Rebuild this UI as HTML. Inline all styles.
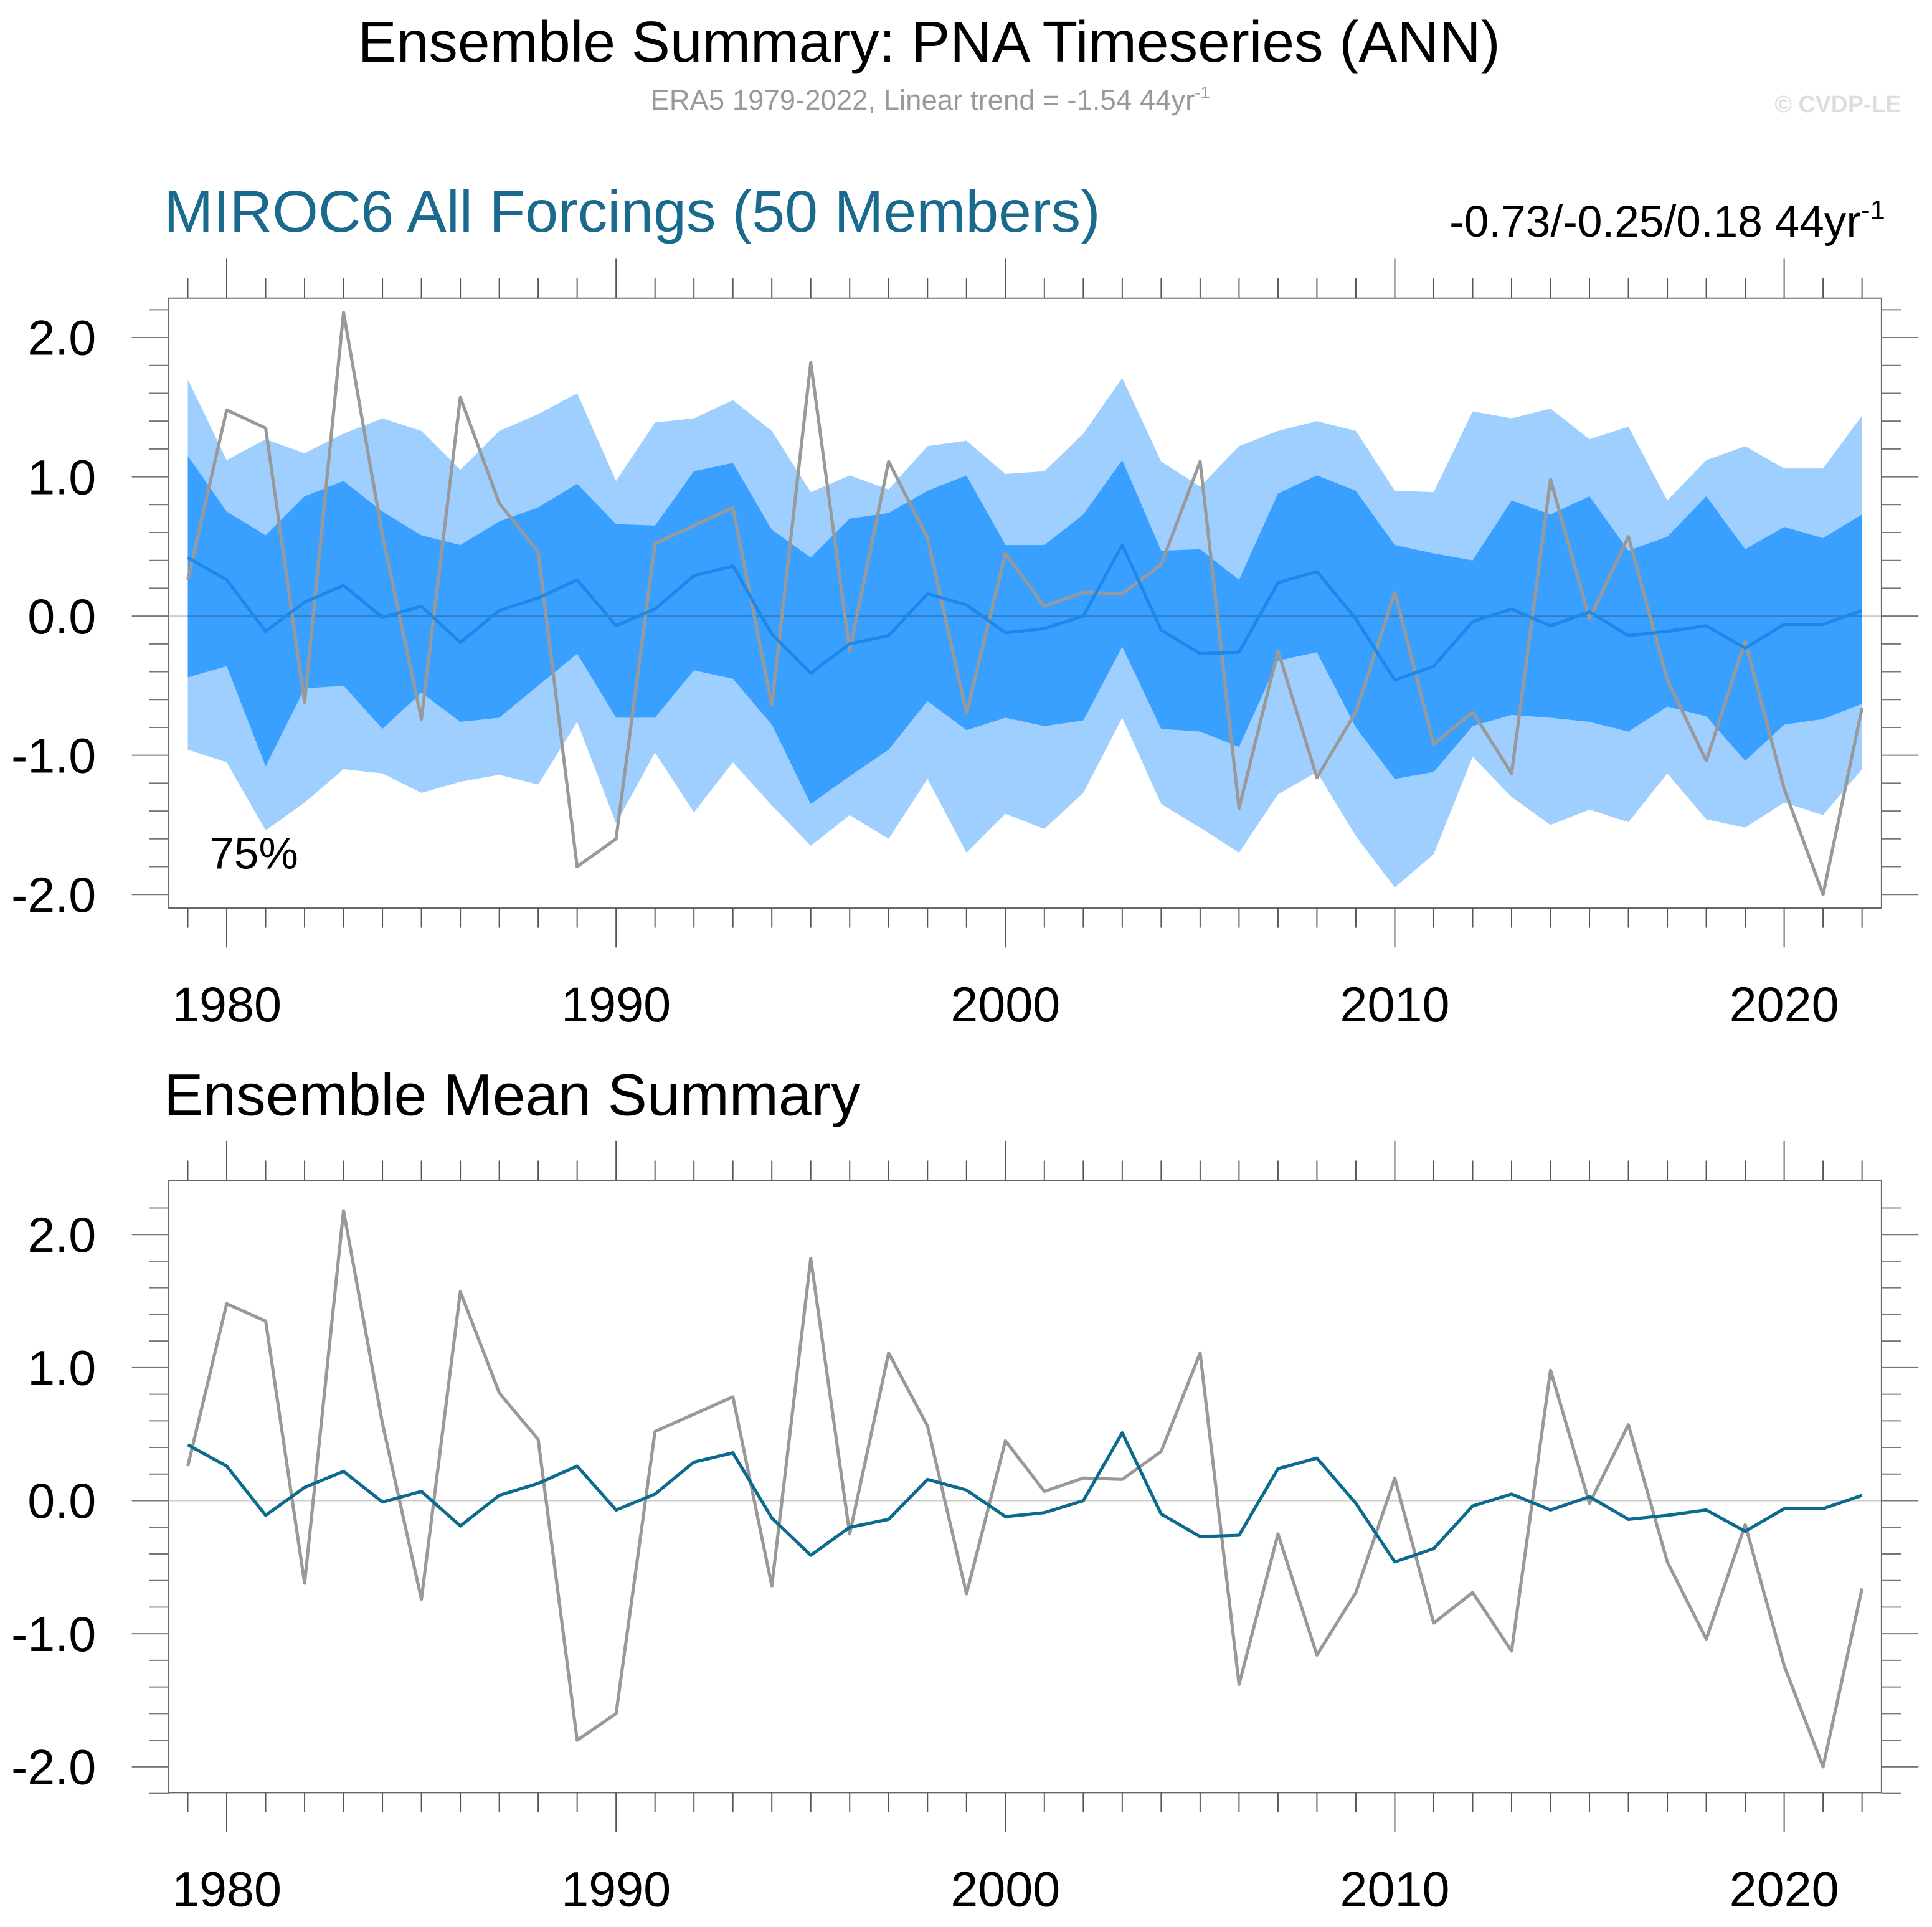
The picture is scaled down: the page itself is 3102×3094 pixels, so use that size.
<!DOCTYPE html>
<html><head><meta charset="utf-8"><style>
html,body{margin:0;padding:0;background:#fff}
svg{display:block;font-family:"Liberation Sans",Arial,sans-serif}
</style></head><body>
<svg id="chart" width="3102" height="3094" viewBox="0 0 1568 1564" preserveAspectRatio="none" xmlns="http://www.w3.org/2000/svg">
<text x="754" y="50" font-size="47" text-anchor="middle" fill="#000">Ensemble Summary: PNA Timeseries (ANN)</text>
<text x="755" y="89" font-size="23" text-anchor="middle" fill="#999">ERA5 1979-2022, Linear trend = -1.54 44yr<tspan dy="-9" font-size="14">-1</tspan></text>
<text x="1543" y="91" font-size="19" font-weight="bold" text-anchor="end" fill="#ddd">© CVDP-LE</text>
<text x="133" y="188" font-size="48" fill="#1a6a8e">MIROC6 All Forcings (50 Members)</text>
<text x="1530" y="192" font-size="36" text-anchor="end" fill="#000">-0.73/-0.25/0.18 44yr<tspan dy="-14" font-size="22">-1</tspan></text>
<text x="133" y="905" font-size="48" fill="#000">Ensemble Mean Summary</text>
<g id="topPanel"></g>
<g id="botPanel"></g>
</svg>
<script>
const years=[];for(let y=1979;y<=2022;y++)years.push(y);
const era5=[0.26,1.48,1.35,-0.62,2.18,0.58,-0.74,1.57,0.81,0.46,-1.80,-1.60,0.52,0.65,0.78,-0.64,1.82,-0.25,1.11,0.56,-0.70,0.45,0.07,0.17,0.16,0.37,1.11,-1.38,-0.25,-1.16,-0.69,0.17,-0.92,-0.69,-1.13,0.98,-0.02,0.57,-0.46,-1.04,-0.18,-1.24,-2.00,-0.66];
const ensMean=[0.42,0.26,-0.11,0.10,0.22,-0.01,0.07,-0.19,0.04,0.13,0.26,-0.07,0.05,0.29,0.36,-0.13,-0.41,-0.20,-0.14,0.16,0.08,-0.12,-0.09,0.00,0.51,-0.10,-0.27,-0.26,0.24,0.32,-0.02,-0.46,-0.36,-0.04,0.05,-0.07,0.03,-0.14,-0.11,-0.07,-0.23,-0.06,-0.06,0.04];
const outerHi=[1.70,1.12,1.27,1.17,1.31,1.42,1.33,1.05,1.33,1.45,1.60,0.97,1.39,1.42,1.55,1.33,0.89,1.01,0.91,1.22,1.26,1.02,1.04,1.31,1.71,1.11,0.93,1.22,1.33,1.40,1.33,0.90,0.89,1.47,1.42,1.49,1.27,1.36,0.83,1.12,1.22,1.06,1.06,1.44];
const innerHi=[1.15,0.75,0.58,0.86,0.97,0.75,0.58,0.51,0.68,0.78,0.95,0.66,0.65,1.04,1.10,0.62,0.42,0.70,0.74,0.90,1.01,0.51,0.51,0.73,1.12,0.47,0.48,0.26,0.88,1.01,0.90,0.51,0.45,0.40,0.83,0.73,0.86,0.47,0.57,0.86,0.48,0.64,0.56,0.73];
const innerLo=[-0.44,-0.36,-1.08,-0.52,-0.50,-0.81,-0.55,-0.76,-0.73,-0.50,-0.27,-0.73,-0.73,-0.39,-0.45,-0.78,-1.35,-1.15,-0.96,-0.61,-0.82,-0.73,-0.79,-0.75,-0.22,-0.81,-0.83,-0.94,-0.32,-0.26,-0.80,-1.17,-1.12,-0.79,-0.71,-0.73,-0.76,-0.83,-0.65,-0.72,-1.04,-0.78,-0.74,-0.63];
const outerLo=[-0.96,-1.05,-1.54,-1.34,-1.10,-1.13,-1.27,-1.19,-1.14,-1.21,-0.76,-1.49,-0.98,-1.41,-1.05,-1.36,-1.65,-1.43,-1.60,-1.17,-1.70,-1.42,-1.53,-1.27,-0.73,-1.35,-1.52,-1.70,-1.28,-1.12,-1.58,-1.95,-1.71,-1.01,-1.30,-1.50,-1.39,-1.48,-1.13,-1.46,-1.52,-1.34,-1.43,-1.10];
const yTicks=[-2,-1,0,1,2];
const yTickLabels=["-2.0","-1.0","0.0","1.0","2.0"];
const xTicks=[1980,1990,2000,2010,2020];

const NS="http://www.w3.org/2000/svg";
function mk(parent,tag,attrs){const e=document.createElementNS(NS,tag);for(const k in attrs)e.setAttribute(k,attrs[k]);parent.appendChild(e);return e;}
const xs=y=>184+(y-1980)*(1448-184)/40;
function panel(g,pTop,pBottom,y0,ppu,withBands,meanColor){
  const ys=v=>y0-v*ppu;
  const L=137,R=1527;
  if(withBands){
    const band=(hi,lo,fill,name)=>{
      let d="M"+years.map((y,i)=>xs(y)+","+ys(hi[i])).join("L");
      for(let i=years.length-1;i>=0;i--)d+="L"+xs(years[i])+","+ys(lo[i]);
      const p=mk(g,"path",{d:d+"Z",fill:fill});
      
      
    };
    band(outerHi,outerLo,"#9ecfff","outer-percentile-band");
    band(innerHi,innerLo,"#3aa0ff","inner-percentile-band");
  }
  const z=mk(g,"line",{x1:L,x2:R,y1:ys(0),y2:ys(0),stroke:"#000","stroke-opacity":0.2,"stroke-width":1});
  
  
  const line=(vals,col,name)=>{
    const p=mk(g,"polyline",{points:years.map((y,i)=>xs(y)+","+ys(vals[i])).join(" "),fill:"none",stroke:col,"stroke-width":2.6,"stroke-linejoin":"round"});
    
    
  };
  line(era5,"#999","era5-line");
  line(ensMean,meanColor,"ensemble-mean-line");
  const f=mk(g,"rect",{x:L,y:pTop,width:R-L,height:pBottom-pTop,fill:"none",stroke:"#666","stroke-width":1});
  
  
  years.forEach(y=>{
    const maj=y%10===0,len=maj?32:16;
    mk(g,"line",{x1:xs(y),x2:xs(y),y1:pTop,y2:pTop-len,stroke:"#555","stroke-width":1});
    mk(g,"line",{x1:xs(y),x2:xs(y),y1:pBottom,y2:pBottom+len,stroke:"#555","stroke-width":1});
  });
  xTicks.forEach(y=>{
    const t=mk(g,"text",{x:xs(y),y:pBottom+92,"font-size":40,"text-anchor":"middle",fill:"#000"});
    t.textContent=String(y);
    
    
  });
  for(let k=-11;k<=11;k++){
    const v=k*0.2,yy=ys(v);
    if(yy<pTop-1||yy>pBottom+1)continue;
    const maj=k%5===0,len=maj?30:16;
    mk(g,"line",{x1:L,x2:L-len,y1:yy,y2:yy,stroke:"#777","stroke-width":1});
    mk(g,"line",{x1:R,x2:R+len,y1:yy,y2:yy,stroke:"#777","stroke-width":1});
  }
  yTicks.forEach((v,i)=>{
    const t=mk(g,"text",{x:78,y:ys(v)+14,"font-size":40,"text-anchor":"end",fill:"#000"});
    t.textContent=yTickLabels[i];
    
    
  });
}
const gTop=document.getElementById("topPanel"),gBot=document.getElementById("botPanel");
panel(gTop,242,737,500,113,true,"#1e88e8");
const lbl=mk(gTop,"text",{x:170,y:705,"font-size":36,fill:"#000"});
lbl.textContent="75%";


panel(gBot,958,1455,1218,108,false,"#0b6a8e");
</script>
</body></html>
